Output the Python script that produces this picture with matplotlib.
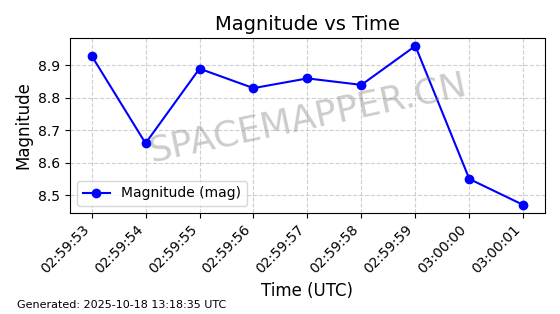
import numpy as np
import matplotlib
matplotlib.use("Agg")
import matplotlib.pyplot as plt

times = ["02:59:53", "02:59:54", "02:59:55", "02:59:56", "02:59:57",
         "02:59:58", "02:59:59", "03:00:00", "03:00:01"]
magnitude = [8.93, 8.66, 8.89, 8.83, 8.86, 8.84, 8.96, 8.55, 8.47]
yticks = [8.5, 8.6, 8.7, 8.8, 8.9]

fig = plt.figure(figsize=(5.6, 3.14), dpi=100)
ax = fig.add_axes([0.125, 0.322, 0.848, 0.557])

x = np.arange(len(times))
ax.plot(x, magnitude, marker='o', color='b', markersize=6, linewidth=1.5,
        label='Magnitude (mag)')

ax.set_xticks(x)
ax.set_xticklabels(times, rotation=45, ha='right')
ax.set_yticks(yticks)
ax.grid(True, linestyle='--', alpha=0.6)

ax.set_title("Magnitude vs Time", fontsize=14)
ax.set_xlabel("Time (UTC)", fontsize=12)
ax.set_ylabel("Magnitude", fontsize=12)
ax.legend(loc='lower left')

# watermark
fig.text(0.55, 0.625, "SPACEMAPPER.CN", fontsize=26, color='gray', alpha=0.4,
         rotation=12, ha='center', va='center')

fig.text(0.03, 0.02, "Generated: 2025-10-18 13:18:35 UTC", fontsize=8)

fig.savefig("out.png", dpi=100)
